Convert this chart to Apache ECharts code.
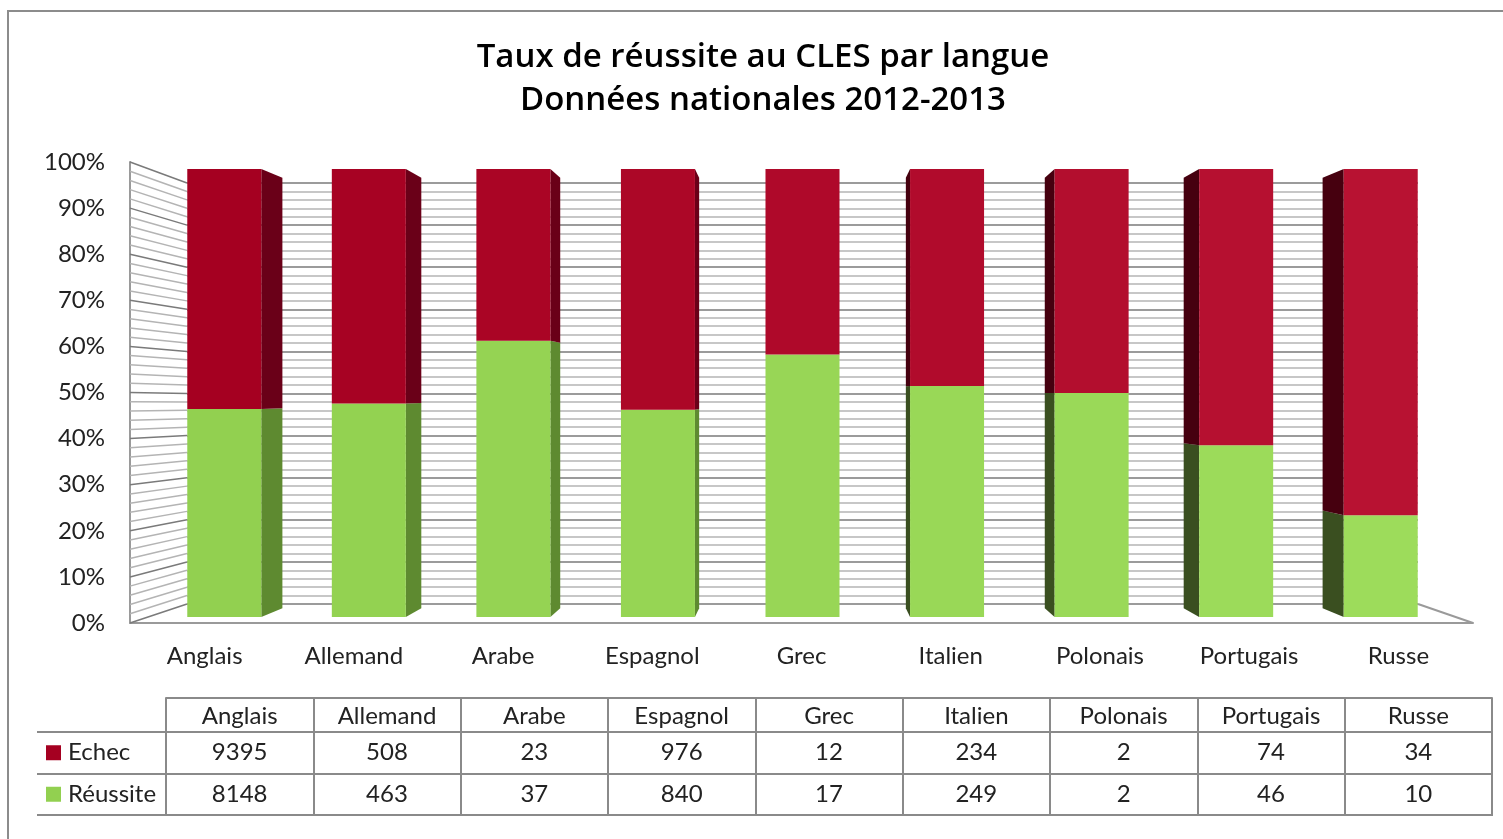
<!DOCTYPE html>
<html>
<head>
<meta charset="utf-8" />
<title>Taux de réussite au CLES par langue</title>
<script src="https://cdn.jsdelivr.net/npm/echarts@6/dist/echarts.min.js"></script>
<style>
  html, body { margin: 0; padding: 0; background: #fff; }
  #main { width: 1503px; height: 839px; }
</style>
</head>
<body>
<div id="main"></div>
<script type="text/javascript">
// données du tableau
var langues = ['Anglais', 'Allemand', 'Arabe', 'Espagnol', 'Grec', 'Italien', 'Polonais', 'Portugais', 'Russe'];
var echec = [9395, 508, 23, 976, 12, 234, 2, 74, 34];
var reussite = [8148, 463, 37, 840, 17, 249, 2, 46, 10];
var lignes = ['Echec', 'Réussite'];

var FONT = 'Lato, "Open Sans", sans-serif';
var FS = 24;
var TXT = '#222222';
var GRID_LINE = '#8a8a8a';

// plan avant (axes), mur du fond, plan des barres
var FRONT = { left: 130, right: 30, top: 162, bottom: 216 };
var WALL = { left: 187, right: 85, top: 183, bottom: 235 };
var BARS = { left: 152, right: 50, top: 169, bottom: 222 };
var DEPTH = 0.961;   // profondeur des barres (perspective)

// empilement 100 %
var segReussite = [], segEchec = [];
for (var i = 0; i < langues.length; i++) {
  var tot = echec[i] + reussite[i];
  var p = reussite[i] / tot * 100;
  segReussite.push([i, 0, p]);
  segEchec.push([i, p, 100]);
}

var tableData = [];
for (var j = 0; j < langues.length; j++) {
  tableData.push([j, 0, echec[j]]);
  tableData.push([j, 1, reussite[j]]);
}

function mix(a, b, t) {
  var pa = [1, 3, 5].map(function (k) { return parseInt(a.substr(k, 2), 16); });
  var pb = [1, 3, 5].map(function (k) { return parseInt(b.substr(k, 2), 16); });
  return 'rgb(' + pa.map(function (v, k) { return Math.round(v + (pb[k] - v) * t); }).join(',') + ')';
}

var colEchec = { frontL: '#a50021', frontR: '#b81232', sideR: '#6a0018', sideL: '#46000f' };
var colReussite = { frontL: '#92d050', frontR: '#9ddc5b', sideR: '#5e8a30', sideL: '#3a4f20' };

function barRenderer(c) {
  return function (params, api) {
    var idx = api.value(0);
    var lo = api.coord([idx, api.value(1)]);
    var hi = api.coord([idx, api.value(2)]);
    var cs = params.coordSys;
    var w = api.size([1, 0])[0] * 0.512;
    var x0 = lo[0] - w / 2, x1 = lo[0] + w / 2;
    var vx = cs.x + cs.width / 2, vy = cs.y + cs.height / 2;
    var t = idx / (langues.length - 1);
    var children = [];
    var edge = null, side;
    if (x1 < vx - 1) { edge = x1; side = c.sideR; }
    else if (x0 > vx + 1) { edge = x0; side = c.sideL; }
    if (edge !== null) {
      var bx = vx + (edge - vx) * DEPTH;
      children.push({
        type: 'polygon',
        shape: { points: [[edge, hi[1]], [bx, vy + (hi[1] - vy) * DEPTH], [bx, vy + (lo[1] - vy) * DEPTH], [edge, lo[1]]] },
        style: { fill: side }
      });
    }
    children.push({
      type: 'rect',
      shape: { x: x0, y: hi[1], width: w, height: lo[1] - hi[1] },
      style: { fill: mix(c.frontL, c.frontR, t) }
    });
    return { type: 'group', children: children };
  };
}

var myChart = echarts.init(document.getElementById('main'));

var option = {
  animation: false,
  backgroundColor: '#fff',
  grid: [
    { left: FRONT.left, right: FRONT.right, top: FRONT.top, bottom: FRONT.bottom },
    { left: WALL.left, right: WALL.right, top: WALL.top, bottom: WALL.bottom },
    { left: BARS.left, right: BARS.right, top: BARS.top, bottom: BARS.bottom },
    { left: 166, right: 11, top: 732, bottom: 24, show: true, borderColor: GRID_LINE, borderWidth: 2 }
  ],
  xAxis: [
    {
      gridIndex: 0, type: 'category', data: langues,
      axisLine: { lineStyle: { color: '#9a9a9a', width: 2 } },
      axisTick: { show: false },
      axisLabel: { margin: 21, fontSize: FS, color: TXT, fontFamily: FONT }
    },
    { gridIndex: 1, type: 'category', data: langues, show: false },
    { gridIndex: 2, type: 'category', data: langues, show: false },
    {
      gridIndex: 3, type: 'category', data: langues, position: 'top',
      axisLine: { lineStyle: { color: GRID_LINE, width: 2 } },
      axisTick: { show: true, interval: 0, length: 34, lineStyle: { color: GRID_LINE, width: 2 } },
      axisLabel: { margin: 4, fontSize: FS, color: TXT, fontFamily: FONT, interval: 0 },
      splitLine: { show: true, interval: 0, lineStyle: { color: GRID_LINE, width: 2 } }
    },
    {
      gridIndex: 3, type: 'category', data: langues, position: 'top', offset: 34,
      axisLine: { lineStyle: { color: GRID_LINE, width: 2 } },
      axisTick: { show: false }, axisLabel: { show: false }
    }
  ],
  yAxis: [
    {
      gridIndex: 0, type: 'value', min: 0, max: 100, interval: 10,
      axisLine: { show: true, lineStyle: { color: '#9a9a9a', width: 2 } },
      axisTick: { show: false },
      splitLine: { show: false },
      axisLabel: { margin: 25, fontSize: FS, color: TXT, fontFamily: FONT, formatter: '{value}%' }
    },
    {
      gridIndex: 1, type: 'value', min: 0, max: 100, interval: 2,
      axisLine: { show: false }, axisTick: { show: false }, axisLabel: { show: false },
      splitLine: { show: true, lineStyle: { color: ['#7a7a7a', '#b4b4b4', '#b4b4b4', '#b4b4b4', '#b4b4b4'], width: 1.5 } }
    },
    { gridIndex: 2, type: 'value', min: 0, max: 100, show: false },
    {
      gridIndex: 3, type: 'category', data: lignes, inverse: true,
      axisLine: { lineStyle: { color: GRID_LINE, width: 2 } },
      axisTick: { show: true, interval: 0, length: 129, lineStyle: { color: GRID_LINE, width: 2 } },
      splitLine: { show: true, interval: 0, lineStyle: { color: GRID_LINE, width: 2 } },
      axisLabel: {
        align: 'left', margin: 120,
        formatter: function (v, k) { return '{sq' + k + '|}{t|' + v + '}'; },
        rich: {
          sq0: { width: 15, height: 15, backgroundColor: '#a50021' },
          sq1: { width: 15, height: 15, backgroundColor: '#92d050' },
          t: { fontSize: FS, color: TXT, fontFamily: FONT, padding: [0, 0, 0, 7] }
        }
      }
    },
    {
      gridIndex: 3, type: 'category', data: lignes, inverse: true, offset: 129,
      axisLine: { lineStyle: { color: GRID_LINE, width: 2 } },
      axisTick: { show: false }, axisLabel: { show: false }
    }
  ],
  series: [
    {
      name: 'Réussite', type: 'custom', xAxisIndex: 2, yAxisIndex: 2, z: 5,
      renderItem: barRenderer(colReussite), data: segReussite
    },
    {
      name: 'Echec', type: 'custom', xAxisIndex: 2, yAxisIndex: 2, z: 5,
      renderItem: barRenderer(colEchec), data: segEchec
    },
    {
      name: 'tableau', type: 'custom', xAxisIndex: 3, yAxisIndex: 3, z: 5,
      renderItem: function (params, api) {
        var pt = api.coord([api.value(0), api.value(1)]);
        return {
          type: 'text', x: pt[0], y: pt[1],
          style: { text: String(api.value(2)), align: 'center', verticalAlign: 'middle', fontSize: FS, fontFamily: FONT, fill: TXT }
        };
      },
      data: tableData
    }
  ]
};

myChart.setOption(option);

// mur gauche, sol et cadre, posés d'après les axes
var W = myChart.getWidth(), H = myChart.getHeight();
var deco = [];
for (var v = 0; v <= 100; v += 2) {
  var yf = myChart.convertToPixel({ yAxisIndex: 0 }, v);
  var yb = myChart.convertToPixel({ yAxisIndex: 1 }, v);
  deco.push({
    type: 'line', z: 1,
    shape: { x1: FRONT.left, y1: yf, x2: WALL.left, y2: yb },
    style: { stroke: v % 10 === 0 ? '#7a7a7a' : '#b4b4b4', lineWidth: 1.5 }
  });
}
deco.push({
  type: 'line', z: 1,
  shape: {
    x1: W - WALL.right, y1: myChart.convertToPixel({ yAxisIndex: 1 }, 0),
    x2: W - FRONT.right, y2: myChart.convertToPixel({ yAxisIndex: 0 }, 0)
  },
  style: { stroke: '#9a9a9a', lineWidth: 2 }
});
deco.push({
  type: 'rect', z: 0,
  shape: { x: 8, y: 11, width: W, height: H },
  style: { fill: 'none', stroke: '#8c8c8c', lineWidth: 2 }
});
deco.push({
  type: 'text', z: 10, x: 763, y: 36,
  style: {
    text: 'Taux de réussite au CLES par langue\nDonnées nationales 2012-2013',
    align: 'center', fontSize: 33, lineHeight: 43, fontWeight: 600,
    fontFamily: '"Comic Sans MS", "Open Sans", sans-serif', fill: '#000'
  }
});
myChart.setOption({ graphic: deco });
</script>
</body>
</html>
